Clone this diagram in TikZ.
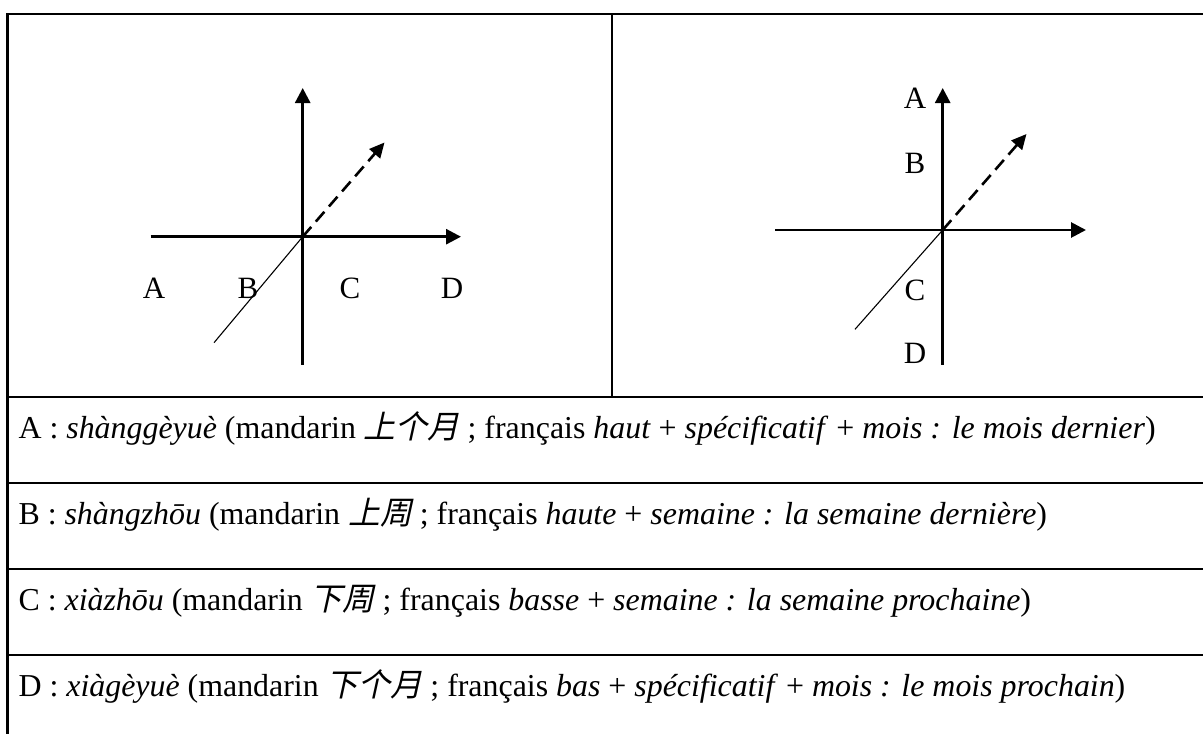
\documentclass[tikz,border=0pt]{standalone}
\usepackage{fontspec}
\setmainfont{Liberation Serif}
\newfontfamily\cjk[FakeSlant=0.22]{Noto Sans CJK SC}
\usetikzlibrary{arrows.meta}
\tikzset{
  frame/.style={line width=2.2pt},
  rowline/.style={line width=2pt},
  axis/.style={line width=2.8pt,-{Triangle[length=15pt,width=15pt]}},
  axisplain/.style={line width=2.8pt},
  thin/.style={line width=1.1pt},
  dashedarrow/.style={line width=2.6pt,dash pattern=on 13pt off 7pt,-{Triangle[length=15pt,width=14pt]}},
  lbl/.style={inner sep=0pt,font=\fontsize{31}{36}\selectfont},
  rowtext/.style={inner sep=0pt,anchor=base west,font=\fontsize{31.9}{36}\selectfont}
}
\begin{document}
\begin{tikzpicture}[x=1pt,y=-1pt]
\useasboundingbox (0,0) rectangle (1203,734);
% frame
\coordinate (bl) at (7.5,734);
\coordinate (tl) at (7.5,14);
\coordinate (tr) at (1203,14);
\draw[frame] (bl) -- (tl) -- (tr);
\coordinate (dt) at (612,14);
\coordinate (db) at (612,397);
\draw[frame] (dt) -- (db);
\foreach \yy/\nm in {397/r1,483/r2,569/r3,655/r4}{
  \coordinate (\nm l) at (7.5,\yy);
  \coordinate (\nm r) at (1203,\yy);
  \draw[rowline] (\nm l) -- (\nm r);
}
% left figure
\coordinate (O1) at (302.7,236.7);
\coordinate (V1t) at (302.7,88);
\coordinate (V1b) at (302.7,365);
\coordinate (H1l) at (150.7,236.7);
\coordinate (H1r) at (461,236.7);
\coordinate (D1a) at (214,342.7);
\coordinate (D1b) at (384.5,142.5);
\draw[axisplain] (O1) -- (V1b);
\draw[axis] (O1) -- (V1t);
\draw[axis] (H1l) -- (H1r);
\draw[thin] (D1a) -- (O1);
\draw[dashedarrow] (O1) -- (D1b);
\node[lbl] (a1) at (154,288) {A};
\node[lbl] (b1) at (248,288) {B};
\node[lbl] (c1) at (350,288) {C};
\node[lbl] (d1) at (452,288) {D};
% right figure
\coordinate (O2) at (942.7,230);
\coordinate (V2t) at (942.7,88);
\coordinate (V2b) at (942.7,365);
\coordinate (H2l) at (775,230);
\coordinate (H2r) at (1086,230);
\coordinate (D2a) at (855,329.3);
\coordinate (D2b) at (1026.5,134);
\draw[axisplain] (O2) -- (V2b);
\draw[axis] (O2) -- (V2t);
\draw[axis] (H2l) -- (H2r);
\draw[thin] (D2a) -- (O2);
\draw[dashedarrow] (O2) -- (D2b);
\node[lbl] (a2) at (915,98) {A};
\node[lbl] (b2) at (915,163) {B};
\node[lbl] (c2) at (915,290) {C};
\node[lbl] (d2) at (915,353) {D};
% rows
\node[rowtext] (ta) at (18.3,438.3) {A : \textit{shànggèyuè} (mandarin {\cjk 上个月} ; français \textit{haut} + \textit{spécificatif} + \textit{mois : le mois dernier})};
\node[rowtext] (tb) at (18.3,524.3) {B : \textit{shàngzhōu} (mandarin {\cjk 上周} ; français \textit{haute} + \textit{semaine : la semaine dernière})};
\node[rowtext] (tc) at (18.3,610.3) {C : \textit{xiàzhōu} (mandarin {\cjk 下周} ; français \textit{basse} + \textit{semaine : la semaine prochaine})};
\node[rowtext] (td) at (18.3,696.7) {D : \textit{xiàgèyuè} (mandarin {\cjk 下个月} ; français \textit{bas} + \textit{spécificatif} + \textit{mois : le mois prochain})};
\end{tikzpicture}
\end{document}
